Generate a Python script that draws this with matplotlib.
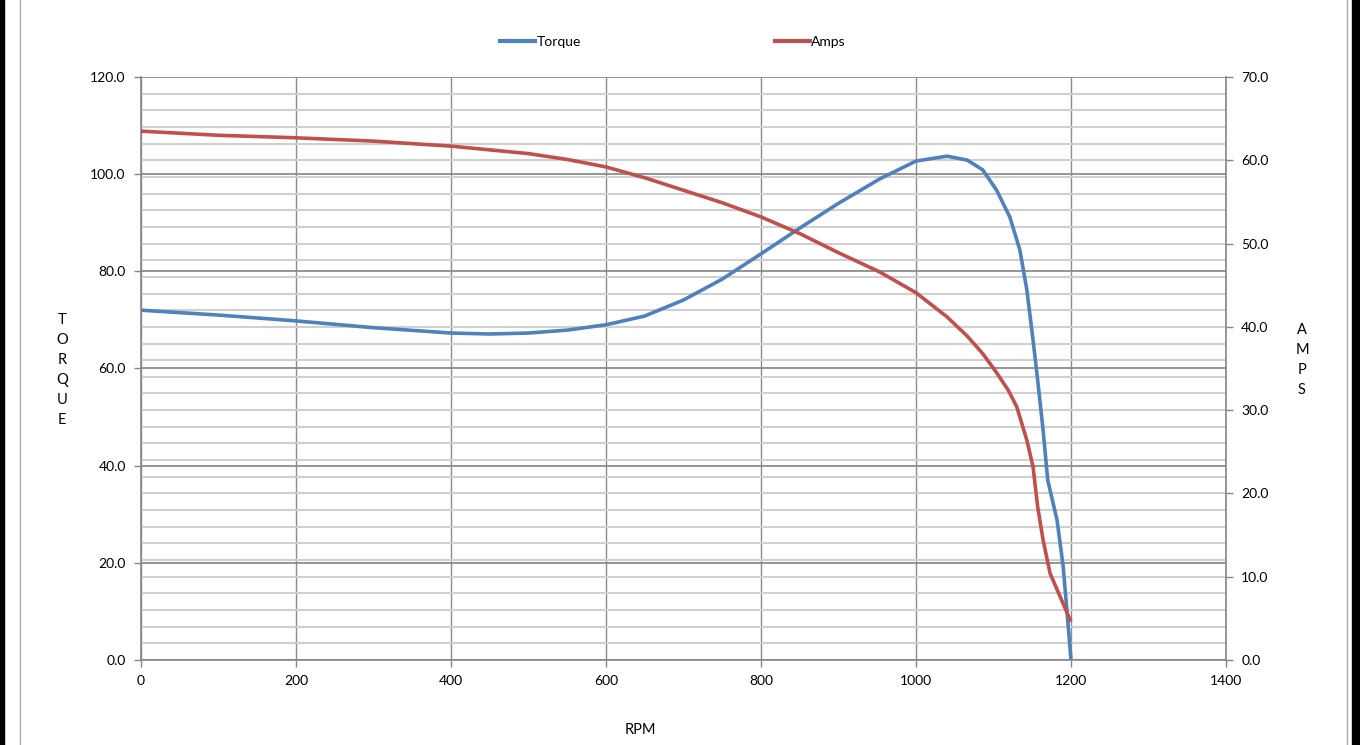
import numpy as np
import matplotlib.pyplot as plt
from matplotlib.patches import Rectangle
from matplotlib.lines import Line2D

# Curva de torque (eixo esquerdo)
rpm_torque = [0, 100, 200, 300, 400, 450, 500, 550, 600, 650, 700, 750, 800, 850, 900, 953,
              1000, 1040, 1066, 1086, 1104, 1121, 1134, 1143, 1151, 1157, 1164, 1170, 1182,
              1190, 1195, 1200]
torque = [72.0, 71.0, 69.8, 68.4, 67.3, 67.1, 67.3, 67.9, 69.0, 70.8, 74.1, 78.4, 83.6, 88.9,
          94.0, 99.0, 102.7, 103.7, 102.9, 100.9, 96.7, 91.2, 84.4, 76.2, 65.9, 57.6, 47.3,
          37.0, 28.8, 19.1, 9.7, 0.0]

# Curva de corrente (eixo direito)
rpm_amps = [0, 100, 200, 300, 400, 500, 550, 600, 650, 700, 750, 800, 850, 900, 953, 1000,
            1040, 1066, 1086, 1104, 1119, 1130, 1143, 1151, 1157, 1164, 1173, 1186, 1199]
amps = [63.5, 63.0, 62.7, 62.3, 61.7, 60.8, 60.1, 59.2, 57.9, 56.4, 54.9, 53.2, 51.2, 48.9,
        46.6, 44.1, 41.2, 38.9, 36.8, 34.5, 32.4, 30.4, 26.4, 23.2, 18.4, 14.4, 10.4, 7.6, 4.8]

x_ticks = [0, 200, 400, 600, 800, 1000, 1200, 1400]
torque_ticks = [0, 20, 40, 60, 80, 100, 120]
amps_ticks = [0, 10, 20, 30, 40, 50, 60, 70]

blue = '#4F81BD'
red = '#C0504D'
plt.rcParams['font.family'] = ['Lato', 'DejaVu Sans']
plt.rcParams['font.size'] = 10

fig = plt.figure(figsize=(13.6, 7.45), dpi=100)
ax = fig.add_axes([141/1360, 85/745, 1085/1360, 583/745])
ax2 = ax.twinx()

# Grade: linhas menores da escala direita desenhadas no eixo esquerdo
minor_pos = np.arange(0, 70.01, 2) * 120 / 70
ax.set_yticks(minor_pos, minor=True)
ax.tick_params(axis='y', which='minor', length=0)
ax.grid(True, axis='y', which='minor', color='#d0d0d0', linewidth=1.5)
ax.grid(True, axis='y', which='major', color='#8c8c8c', linewidth=1.3)
ax.grid(True, axis='x', which='major', color='#8c8c8c', linewidth=1.0)
ax.set_axisbelow(True)

ax.plot(rpm_torque, torque, color=blue, linewidth=2.6, solid_joinstyle='round')
ax2.plot(rpm_amps, amps, color=red, linewidth=2.6, solid_joinstyle='round')

ax.set_xlim(0, 1400)
ax.set_ylim(0, 120)
ax2.set_ylim(0, 70)
ax.set_xticks(x_ticks)
ax.set_xticklabels([str(v) for v in x_ticks])
ax.set_yticks(torque_ticks)
ax.set_yticklabels([f'{v:.1f}' for v in torque_ticks])
ax2.set_yticks(amps_ticks)
ax2.set_yticklabels([f'{v:.1f}' for v in amps_ticks])

for a in (ax, ax2):
    for s in a.spines.values():
        s.set_color('#868686')
        s.set_linewidth(1.2)
    a.spines['top'].set_visible(False)
    a.tick_params(axis='both', which='major', color='#868686', length=5, width=1,
                  labelsize=10, pad=6)
ax.spines['right'].set_visible(False)
ax2.spines['left'].set_visible(False)
ax2.spines['bottom'].set_visible(False)

# Rótulos dos eixos (letras empilhadas)
fig.text(62/1360, 1 - 370/745, '\n'.join('TORQUE'), ha='center', va='center',
         fontsize=10.5, linespacing=1.55)
fig.text(1302/1360, 1 - 360/745, '\n'.join('AMPS'), ha='center', va='center',
         fontsize=10.5, linespacing=1.55)
fig.text(640/1360, 1 - 730/745, 'RPM', ha='center', va='center', fontsize=10.5)

# Legenda
handles = [Line2D([], [], color=blue, linewidth=3), Line2D([], [], color=red, linewidth=3)]
fig.legend(handles, ['Torque', 'Amps'], loc='center', bbox_to_anchor=(0.495, 1 - 42/745),
           ncol=2, frameon=False, handlelength=2.5, handletextpad=0.1, columnspacing=14,
           fontsize=10)

# Moldura
fig.patches.append(Rectangle((0, 0), 4/1360, 1, transform=fig.transFigure, color='black'))
fig.patches.append(Rectangle((1352/1360, 0), 8/1360, 1, transform=fig.transFigure, color='black'))
fig.add_artist(Line2D([20/1360, 20/1360], [0, 1], transform=fig.transFigure, color='#aaaaaa', lw=1))
fig.add_artist(Line2D([1347/1360, 1347/1360], [0, 1], transform=fig.transFigure, color='#aaaaaa', lw=1))

plt.savefig('out.png', dpi=100)
